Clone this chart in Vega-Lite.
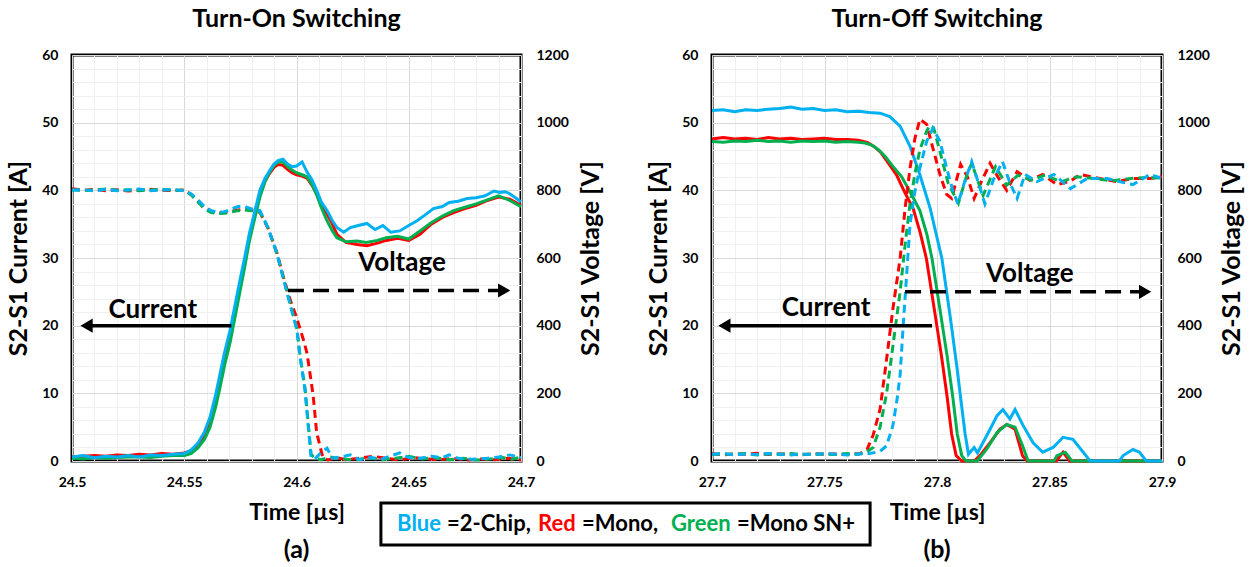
{
"$schema": "https://vega.github.io/schema/vega-lite/v6.json",
"background": "white",
"padding": {"left": 5, "top": 5, "right": 5, "bottom": 0},
"config": {
  "font": "Lato",
  "view": {"stroke": "black", "strokeWidth": 3},
  "axis": {"ticks": false, "domain": false, "labelFont": "Lato", "labelFontSize": 14, "labelFontWeight": "bold", "labelColor": "#000000", "titleFont": "Lato", "titleFontSize": 25, "titleFontWeight": "bold", "titleColor": "#000000", "labelOverlap": false, "labelFlush": false, "gridWidth": 1},
  "axisX": {"labelPadding": 14, "titlePadding": 12, "titleFontSize": 23},
  "axisLeft": {"labelPadding": 14, "titlePadding": 10},
  "axisRight": {"labelPadding": 15, "titlePadding": 10, "titleAngle": 270, "titleBaseline": "top"},
  "title": {"font": "Lato", "fontSize": 25, "fontWeight": "bold", "color": "#000000", "offset": 16}
},
"datasets": {
"onI": [
{"t":24.5,"s":"Mono","v":0.6},{"t":24.505,"s":"Mono","v":0.7},{"t":24.51,"s":"Mono","v":0.8},{"t":24.515,"s":"Mono","v":0.7},{"t":24.52,"s":"Mono","v":0.9},{"t":24.525,"s":"Mono","v":0.8},{"t":24.53,"s":"Mono","v":1.0},{"t":24.535,"s":"Mono","v":0.9},{"t":24.54,"s":"Mono","v":1.1},{"t":24.545,"s":"Mono","v":1.0},{"t":24.55,"s":"Mono","v":1.2},{"t":24.553,"s":"Mono","v":1.5},{"t":24.556,"s":"Mono","v":2.3},{"t":24.559,"s":"Mono","v":3.8},{"t":24.5615,"s":"Mono","v":5.8},{"t":24.564,"s":"Mono","v":9},{"t":24.566,"s":"Mono","v":12},{"t":24.568,"s":"Mono","v":15.2},{"t":24.5704,"s":"Mono","v":18.5},{"t":24.5726,"s":"Mono","v":22.3},{"t":24.5748,"s":"Mono","v":26},{"t":24.577,"s":"Mono","v":29.6},{"t":24.579,"s":"Mono","v":33},{"t":24.5815,"s":"Mono","v":36.5},{"t":24.5837,"s":"Mono","v":39.5},{"t":24.586,"s":"Mono","v":41.4},{"t":24.588,"s":"Mono","v":42.5},{"t":24.59,"s":"Mono","v":43.4},{"t":24.5918,"s":"Mono","v":43.8},{"t":24.594,"s":"Mono","v":43.7},{"t":24.596,"s":"Mono","v":43.1},{"t":24.598,"s":"Mono","v":42.6},{"t":24.6,"s":"Mono","v":42.3},{"t":24.6025,"s":"Mono","v":42.1},{"t":24.6047,"s":"Mono","v":41.8},{"t":24.607,"s":"Mono","v":40.7},{"t":24.609,"s":"Mono","v":39.5},{"t":24.611,"s":"Mono","v":38.1},{"t":24.6136,"s":"Mono","v":36.5},{"t":24.616,"s":"Mono","v":35},{"t":24.618,"s":"Mono","v":33.5},{"t":24.622,"s":"Mono","v":32.3},{"t":24.627,"s":"Mono","v":32.0},{"t":24.6314,"s":"Mono","v":31.8},{"t":24.636,"s":"Mono","v":32.2},{"t":24.64,"s":"Mono","v":32.6},{"t":24.645,"s":"Mono","v":32.9},{"t":24.65,"s":"Mono","v":32.6},{"t":24.655,"s":"Mono","v":33.5},{"t":24.66,"s":"Mono","v":35},{"t":24.665,"s":"Mono","v":36},{"t":24.67,"s":"Mono","v":36.7},{"t":24.675,"s":"Mono","v":37.3},{"t":24.68,"s":"Mono","v":37.8},{"t":24.685,"s":"Mono","v":38.5},{"t":24.69,"s":"Mono","v":39.0},{"t":24.695,"s":"Mono","v":38.7},{"t":24.7,"s":"Mono","v":37.8},
{"t":24.5,"s":"Mono SN+","v":0.4},{"t":24.505,"s":"Mono SN+","v":0.3},{"t":24.51,"s":"Mono SN+","v":0.5},{"t":24.515,"s":"Mono SN+","v":0.4},{"t":24.52,"s":"Mono SN+","v":0.5},{"t":24.525,"s":"Mono SN+","v":0.6},{"t":24.53,"s":"Mono SN+","v":0.6},{"t":24.535,"s":"Mono SN+","v":0.5},{"t":24.54,"s":"Mono SN+","v":0.7},{"t":24.545,"s":"Mono SN+","v":0.8},{"t":24.55,"s":"Mono SN+","v":0.8},{"t":24.553,"s":"Mono SN+","v":1.1},{"t":24.556,"s":"Mono SN+","v":1.9},{"t":24.559,"s":"Mono SN+","v":3.2},{"t":24.5615,"s":"Mono SN+","v":5},{"t":24.564,"s":"Mono SN+","v":8},{"t":24.566,"s":"Mono SN+","v":11},{"t":24.568,"s":"Mono SN+","v":14.2},{"t":24.5704,"s":"Mono SN+","v":17.5},{"t":24.5726,"s":"Mono SN+","v":21.2},{"t":24.5748,"s":"Mono SN+","v":25},{"t":24.577,"s":"Mono SN+","v":28.8},{"t":24.579,"s":"Mono SN+","v":32.5},{"t":24.5815,"s":"Mono SN+","v":36},{"t":24.5837,"s":"Mono SN+","v":39},{"t":24.586,"s":"Mono SN+","v":41.3},{"t":24.588,"s":"Mono SN+","v":42.7},{"t":24.59,"s":"Mono SN+","v":43.7},{"t":24.5918,"s":"Mono SN+","v":44.2},{"t":24.594,"s":"Mono SN+","v":44.2},{"t":24.596,"s":"Mono SN+","v":43.5},{"t":24.598,"s":"Mono SN+","v":43.0},{"t":24.6,"s":"Mono SN+","v":42.6},{"t":24.6025,"s":"Mono SN+","v":42.3},{"t":24.6047,"s":"Mono SN+","v":42},{"t":24.607,"s":"Mono SN+","v":40.8},{"t":24.609,"s":"Mono SN+","v":39.3},{"t":24.611,"s":"Mono SN+","v":37.5},{"t":24.6136,"s":"Mono SN+","v":35.5},{"t":24.616,"s":"Mono SN+","v":34},{"t":24.618,"s":"Mono SN+","v":33},{"t":24.622,"s":"Mono SN+","v":32.4},{"t":24.627,"s":"Mono SN+","v":32.5},{"t":24.631,"s":"Mono SN+","v":32.3},{"t":24.636,"s":"Mono SN+","v":32.6},{"t":24.64,"s":"Mono SN+","v":33},{"t":24.645,"s":"Mono SN+","v":33.2},{"t":24.65,"s":"Mono SN+","v":32.8},{"t":24.655,"s":"Mono SN+","v":34},{"t":24.66,"s":"Mono SN+","v":35.2},{"t":24.665,"s":"Mono SN+","v":36.2},{"t":24.67,"s":"Mono SN+","v":37},{"t":24.675,"s":"Mono SN+","v":37.5},{"t":24.68,"s":"Mono SN+","v":38},{"t":24.685,"s":"Mono SN+","v":38.6},{"t":24.69,"s":"Mono SN+","v":39.2},{"t":24.695,"s":"Mono SN+","v":38.5},{"t":24.7,"s":"Mono SN+","v":37.6},
{"t":24.5,"s":"2-Chip","v":0.6},{"t":24.505,"s":"2-Chip","v":0.8},{"t":24.51,"s":"2-Chip","v":0.5},{"t":24.515,"s":"2-Chip","v":0.7},{"t":24.52,"s":"2-Chip","v":0.6},{"t":24.525,"s":"2-Chip","v":0.8},{"t":24.53,"s":"2-Chip","v":0.6},{"t":24.535,"s":"2-Chip","v":0.9},{"t":24.54,"s":"2-Chip","v":0.8},{"t":24.545,"s":"2-Chip","v":1.0},{"t":24.55,"s":"2-Chip","v":1.1},{"t":24.553,"s":"2-Chip","v":1.6},{"t":24.556,"s":"2-Chip","v":2.6},{"t":24.559,"s":"2-Chip","v":4.3},{"t":24.5615,"s":"2-Chip","v":6.5},{"t":24.564,"s":"2-Chip","v":9.8},{"t":24.566,"s":"2-Chip","v":13},{"t":24.568,"s":"2-Chip","v":16.1},{"t":24.5704,"s":"2-Chip","v":19.3},{"t":24.5726,"s":"2-Chip","v":23},{"t":24.5748,"s":"2-Chip","v":26.7},{"t":24.577,"s":"2-Chip","v":30.2},{"t":24.579,"s":"2-Chip","v":33.6},{"t":24.5815,"s":"2-Chip","v":37},{"t":24.5837,"s":"2-Chip","v":40},{"t":24.586,"s":"2-Chip","v":41.8},{"t":24.588,"s":"2-Chip","v":42.9},{"t":24.59,"s":"2-Chip","v":43.9},{"t":24.5918,"s":"2-Chip","v":44.4},{"t":24.594,"s":"2-Chip","v":44.6},{"t":24.596,"s":"2-Chip","v":43.9},{"t":24.598,"s":"2-Chip","v":43.5},{"t":24.6,"s":"2-Chip","v":43.6},{"t":24.6025,"s":"2-Chip","v":44.2},{"t":24.6047,"s":"2-Chip","v":42.7},{"t":24.607,"s":"2-Chip","v":41.5},{"t":24.609,"s":"2-Chip","v":40},{"t":24.611,"s":"2-Chip","v":38.3},{"t":24.6136,"s":"2-Chip","v":37},{"t":24.616,"s":"2-Chip","v":35.5},{"t":24.618,"s":"2-Chip","v":34.5},{"t":24.621,"s":"2-Chip","v":33.8},{"t":24.624,"s":"2-Chip","v":34.5},{"t":24.6275,"s":"2-Chip","v":34.8},{"t":24.6314,"s":"2-Chip","v":35.1},{"t":24.635,"s":"2-Chip","v":34.2},{"t":24.6385,"s":"2-Chip","v":34.8},{"t":24.642,"s":"2-Chip","v":33.8},{"t":24.646,"s":"2-Chip","v":34},{"t":24.65,"s":"2-Chip","v":34.8},{"t":24.6537,"s":"2-Chip","v":35.5},{"t":24.657,"s":"2-Chip","v":36.3},{"t":24.661,"s":"2-Chip","v":37.3},{"t":24.665,"s":"2-Chip","v":37.6},{"t":24.668,"s":"2-Chip","v":38.2},{"t":24.672,"s":"2-Chip","v":38.4},{"t":24.676,"s":"2-Chip","v":38.8},{"t":24.68,"s":"2-Chip","v":38.9},{"t":24.684,"s":"2-Chip","v":39.2},{"t":24.688,"s":"2-Chip","v":39.9},{"t":24.6906,"s":"2-Chip","v":39.7},{"t":24.693,"s":"2-Chip","v":39.8},{"t":24.695,"s":"2-Chip","v":39.5},{"t":24.698,"s":"2-Chip","v":38.8},{"t":24.7,"s":"2-Chip","v":38.3}
],
"onV": [
{"t":24.5,"s":"Mono","v":805},{"t":24.505,"s":"Mono","v":800},{"t":24.51,"s":"Mono","v":803},{"t":24.515,"s":"Mono","v":799},{"t":24.52,"s":"Mono","v":802},{"t":24.525,"s":"Mono","v":798},{"t":24.53,"s":"Mono","v":801},{"t":24.535,"s":"Mono","v":803},{"t":24.54,"s":"Mono","v":800},{"t":24.545,"s":"Mono","v":799},{"t":24.55,"s":"Mono","v":801},{"t":24.553,"s":"Mono","v":788},{"t":24.556,"s":"Mono","v":770},{"t":24.559,"s":"Mono","v":750},{"t":24.562,"s":"Mono","v":738},{"t":24.565,"s":"Mono","v":733},{"t":24.568,"s":"Mono","v":735},{"t":24.571,"s":"Mono","v":738},{"t":24.574,"s":"Mono","v":742},{"t":24.577,"s":"Mono","v":745},{"t":24.58,"s":"Mono","v":742},{"t":24.5837,"s":"Mono","v":735},{"t":24.5873,"s":"Mono","v":688},{"t":24.5913,"s":"Mono","v":615},{"t":24.594,"s":"Mono","v":548},{"t":24.597,"s":"Mono","v":480},{"t":24.6,"s":"Mono","v":425},{"t":24.603,"s":"Mono","v":360},{"t":24.6047,"s":"Mono","v":318},{"t":24.6074,"s":"Mono","v":195},{"t":24.609,"s":"Mono","v":83},{"t":24.6118,"s":"Mono","v":9},{"t":24.614,"s":"Mono","v":3},{"t":24.618,"s":"Mono","v":10},{"t":24.622,"s":"Mono","v":4},{"t":24.628,"s":"Mono","v":8},{"t":24.634,"s":"Mono","v":14},{"t":24.64,"s":"Mono","v":8},{"t":24.646,"s":"Mono","v":3},{"t":24.652,"s":"Mono","v":10},{"t":24.658,"s":"Mono","v":6},{"t":24.664,"s":"Mono","v":4},{"t":24.67,"s":"Mono","v":8},{"t":24.676,"s":"Mono","v":3},{"t":24.682,"s":"Mono","v":6},{"t":24.688,"s":"Mono","v":4},{"t":24.694,"s":"Mono","v":8},{"t":24.7,"s":"Mono","v":3},
{"t":24.5,"s":"Mono SN+","v":802},{"t":24.505,"s":"Mono SN+","v":799},{"t":24.51,"s":"Mono SN+","v":801},{"t":24.515,"s":"Mono SN+","v":804},{"t":24.52,"s":"Mono SN+","v":800},{"t":24.525,"s":"Mono SN+","v":802},{"t":24.53,"s":"Mono SN+","v":799},{"t":24.535,"s":"Mono SN+","v":801},{"t":24.54,"s":"Mono SN+","v":803},{"t":24.545,"s":"Mono SN+","v":800},{"t":24.55,"s":"Mono SN+","v":800},{"t":24.553,"s":"Mono SN+","v":787},{"t":24.556,"s":"Mono SN+","v":766},{"t":24.559,"s":"Mono SN+","v":745},{"t":24.562,"s":"Mono SN+","v":734},{"t":24.565,"s":"Mono SN+","v":731},{"t":24.568,"s":"Mono SN+","v":732},{"t":24.571,"s":"Mono SN+","v":736},{"t":24.574,"s":"Mono SN+","v":740},{"t":24.577,"s":"Mono SN+","v":742},{"t":24.58,"s":"Mono SN+","v":740},{"t":24.5837,"s":"Mono SN+","v":736},{"t":24.5873,"s":"Mono SN+","v":690},{"t":24.5913,"s":"Mono SN+","v":612},{"t":24.594,"s":"Mono SN+","v":545},{"t":24.597,"s":"Mono SN+","v":470},{"t":24.6002,"s":"Mono SN+","v":390},{"t":24.6016,"s":"Mono SN+","v":310},{"t":24.6038,"s":"Mono SN+","v":215},{"t":24.6051,"s":"Mono SN+","v":120},{"t":24.6065,"s":"Mono SN+","v":20},{"t":24.608,"s":"Mono SN+","v":8},{"t":24.611,"s":"Mono SN+","v":4},{"t":24.615,"s":"Mono SN+","v":12},{"t":24.62,"s":"Mono SN+","v":6},{"t":24.626,"s":"Mono SN+","v":3},{"t":24.632,"s":"Mono SN+","v":10},{"t":24.638,"s":"Mono SN+","v":4},{"t":24.644,"s":"Mono SN+","v":8},{"t":24.65,"s":"Mono SN+","v":14},{"t":24.656,"s":"Mono SN+","v":6},{"t":24.662,"s":"Mono SN+","v":10},{"t":24.668,"s":"Mono SN+","v":4},{"t":24.674,"s":"Mono SN+","v":8},{"t":24.68,"s":"Mono SN+","v":3},{"t":24.686,"s":"Mono SN+","v":6},{"t":24.692,"s":"Mono SN+","v":10},{"t":24.696,"s":"Mono SN+","v":5},{"t":24.7,"s":"Mono SN+","v":12},
{"t":24.5,"s":"2-Chip","v":800},{"t":24.505,"s":"2-Chip","v":802},{"t":24.51,"s":"2-Chip","v":798},{"t":24.515,"s":"2-Chip","v":803},{"t":24.52,"s":"2-Chip","v":799},{"t":24.525,"s":"2-Chip","v":801},{"t":24.53,"s":"2-Chip","v":804},{"t":24.535,"s":"2-Chip","v":799},{"t":24.54,"s":"2-Chip","v":801},{"t":24.545,"s":"2-Chip","v":803},{"t":24.55,"s":"2-Chip","v":798},{"t":24.553,"s":"2-Chip","v":790},{"t":24.556,"s":"2-Chip","v":772},{"t":24.559,"s":"2-Chip","v":752},{"t":24.562,"s":"2-Chip","v":740},{"t":24.565,"s":"2-Chip","v":735},{"t":24.568,"s":"2-Chip","v":737},{"t":24.571,"s":"2-Chip","v":745},{"t":24.574,"s":"2-Chip","v":752},{"t":24.577,"s":"2-Chip","v":752},{"t":24.58,"s":"2-Chip","v":745},{"t":24.5837,"s":"2-Chip","v":740},{"t":24.5873,"s":"2-Chip","v":690},{"t":24.5913,"s":"2-Chip","v":613},{"t":24.594,"s":"2-Chip","v":543},{"t":24.597,"s":"2-Chip","v":466},{"t":24.6002,"s":"2-Chip","v":386},{"t":24.6016,"s":"2-Chip","v":307},{"t":24.6038,"s":"2-Chip","v":209},{"t":24.6051,"s":"2-Chip","v":112},{"t":24.6065,"s":"2-Chip","v":12},{"t":24.608,"s":"2-Chip","v":5},{"t":24.611,"s":"2-Chip","v":25},{"t":24.6136,"s":"2-Chip","v":38},{"t":24.616,"s":"2-Chip","v":8},{"t":24.62,"s":"2-Chip","v":12},{"t":24.624,"s":"2-Chip","v":18},{"t":24.628,"s":"2-Chip","v":4},{"t":24.633,"s":"2-Chip","v":10},{"t":24.638,"s":"2-Chip","v":6},{"t":24.642,"s":"2-Chip","v":15},{"t":24.646,"s":"2-Chip","v":24},{"t":24.65,"s":"2-Chip","v":10},{"t":24.655,"s":"2-Chip","v":8},{"t":24.66,"s":"2-Chip","v":14},{"t":24.665,"s":"2-Chip","v":10},{"t":24.668,"s":"2-Chip","v":18},{"t":24.672,"s":"2-Chip","v":8},{"t":24.678,"s":"2-Chip","v":5},{"t":24.685,"s":"2-Chip","v":8},{"t":24.69,"s":"2-Chip","v":12},{"t":24.695,"s":"2-Chip","v":18},{"t":24.7,"s":"2-Chip","v":10}
],
"offI": [
{"t":27.7,"s":"Mono","v":47.6},{"t":27.705,"s":"Mono","v":47.8},{"t":27.71,"s":"Mono","v":47.6},{"t":27.715,"s":"Mono","v":47.7},{"t":27.72,"s":"Mono","v":47.5},{"t":27.725,"s":"Mono","v":47.8},{"t":27.73,"s":"Mono","v":47.6},{"t":27.735,"s":"Mono","v":47.7},{"t":27.74,"s":"Mono","v":47.5},{"t":27.745,"s":"Mono","v":47.6},{"t":27.75,"s":"Mono","v":47.7},{"t":27.755,"s":"Mono","v":47.5},{"t":27.76,"s":"Mono","v":47.5},{"t":27.765,"s":"Mono","v":47.4},{"t":27.769,"s":"Mono","v":47.1},{"t":27.772,"s":"Mono","v":46.5},{"t":27.775,"s":"Mono","v":45.6},{"t":27.778,"s":"Mono","v":44.2},{"t":27.782,"s":"Mono","v":42.3},{"t":27.7855,"s":"Mono","v":39.8},{"t":27.7894,"s":"Mono","v":37.3},{"t":27.7925,"s":"Mono","v":33.8},{"t":27.7953,"s":"Mono","v":29.9},{"t":27.799,"s":"Mono","v":22},{"t":27.802,"s":"Mono","v":15.5},{"t":27.8045,"s":"Mono","v":9.5},{"t":27.8065,"s":"Mono","v":4},{"t":27.8085,"s":"Mono","v":0.8},{"t":27.811,"s":"Mono","v":0},{"t":27.8165,"s":"Mono","v":0},{"t":27.8191,"s":"Mono","v":0.8},{"t":27.8236,"s":"Mono","v":2.7},{"t":27.828,"s":"Mono","v":4.7},{"t":27.831,"s":"Mono","v":5.4},{"t":27.8347,"s":"Mono","v":4.7},{"t":27.838,"s":"Mono","v":0.8},{"t":27.84,"s":"Mono","v":0},{"t":27.853,"s":"Mono","v":0},{"t":27.856,"s":"Mono","v":1.3},{"t":27.859,"s":"Mono","v":0},{"t":27.9,"s":"Mono","v":0},
{"t":27.7,"s":"Mono SN+","v":47.2},{"t":27.705,"s":"Mono SN+","v":47.1},{"t":27.71,"s":"Mono SN+","v":47.3},{"t":27.715,"s":"Mono SN+","v":47.2},{"t":27.72,"s":"Mono SN+","v":47.4},{"t":27.725,"s":"Mono SN+","v":47.2},{"t":27.73,"s":"Mono SN+","v":47.3},{"t":27.735,"s":"Mono SN+","v":47.1},{"t":27.74,"s":"Mono SN+","v":47.3},{"t":27.745,"s":"Mono SN+","v":47.2},{"t":27.75,"s":"Mono SN+","v":47.3},{"t":27.755,"s":"Mono SN+","v":47.1},{"t":27.76,"s":"Mono SN+","v":47.2},{"t":27.765,"s":"Mono SN+","v":47.1},{"t":27.768,"s":"Mono SN+","v":47.0},{"t":27.771,"s":"Mono SN+","v":46.7},{"t":27.774,"s":"Mono SN+","v":46.0},{"t":27.777,"s":"Mono SN+","v":45.0},{"t":27.7805,"s":"Mono SN+","v":43.5},{"t":27.7843,"s":"Mono SN+","v":42.0},{"t":27.7885,"s":"Mono SN+","v":39.5},{"t":27.7924,"s":"Mono SN+","v":37.0},{"t":27.7955,"s":"Mono SN+","v":33.5},{"t":27.7978,"s":"Mono SN+","v":29.9},{"t":27.8015,"s":"Mono SN+","v":22},{"t":27.8045,"s":"Mono SN+","v":15.5},{"t":27.807,"s":"Mono SN+","v":9.5},{"t":27.809,"s":"Mono SN+","v":4},{"t":27.811,"s":"Mono SN+","v":0.8},{"t":27.813,"s":"Mono SN+","v":0},{"t":27.8178,"s":"Mono SN+","v":0},{"t":27.822,"s":"Mono SN+","v":1.7},{"t":27.8267,"s":"Mono SN+","v":4.2},{"t":27.831,"s":"Mono SN+","v":5.4},{"t":27.8347,"s":"Mono SN+","v":5.0},{"t":27.838,"s":"Mono SN+","v":2.3},{"t":27.8405,"s":"Mono SN+","v":0},{"t":27.852,"s":"Mono SN+","v":0},{"t":27.8533,"s":"Mono SN+","v":0.8},{"t":27.857,"s":"Mono SN+","v":1.3},{"t":27.86,"s":"Mono SN+","v":0},{"t":27.9,"s":"Mono SN+","v":0},
{"t":27.7,"s":"2-Chip","v":51.8},{"t":27.705,"s":"2-Chip","v":51.9},{"t":27.71,"s":"2-Chip","v":51.6},{"t":27.715,"s":"2-Chip","v":51.9},{"t":27.72,"s":"2-Chip","v":51.8},{"t":27.725,"s":"2-Chip","v":52.0},{"t":27.73,"s":"2-Chip","v":52.1},{"t":27.735,"s":"2-Chip","v":52.3},{"t":27.74,"s":"2-Chip","v":52.0},{"t":27.745,"s":"2-Chip","v":52.1},{"t":27.75,"s":"2-Chip","v":51.8},{"t":27.755,"s":"2-Chip","v":51.9},{"t":27.76,"s":"2-Chip","v":51.6},{"t":27.765,"s":"2-Chip","v":51.7},{"t":27.77,"s":"2-Chip","v":51.5},{"t":27.7747,"s":"2-Chip","v":51.4},{"t":27.779,"s":"2-Chip","v":50.9},{"t":27.7836,"s":"2-Chip","v":49.5},{"t":27.788,"s":"2-Chip","v":46.5},{"t":27.7924,"s":"2-Chip","v":42.3},{"t":27.797,"s":"2-Chip","v":37.3},{"t":27.8,"s":"2-Chip","v":33},{"t":27.8022,"s":"2-Chip","v":29.9},{"t":27.806,"s":"2-Chip","v":21},{"t":27.8088,"s":"2-Chip","v":14},{"t":27.811,"s":"2-Chip","v":8},{"t":27.8125,"s":"2-Chip","v":4},{"t":27.814,"s":"2-Chip","v":1.0},{"t":27.8165,"s":"2-Chip","v":2.0},{"t":27.818,"s":"2-Chip","v":1.2},{"t":27.8204,"s":"2-Chip","v":2.7},{"t":27.8236,"s":"2-Chip","v":4.7},{"t":27.8267,"s":"2-Chip","v":6.7},{"t":27.8293,"s":"2-Chip","v":7.6},{"t":27.8324,"s":"2-Chip","v":6.2},{"t":27.8347,"s":"2-Chip","v":7.6},{"t":27.8382,"s":"2-Chip","v":5.3},{"t":27.8427,"s":"2-Chip","v":2.7},{"t":27.847,"s":"2-Chip","v":1.3},{"t":27.8516,"s":"2-Chip","v":2.0},{"t":27.856,"s":"2-Chip","v":3.5},{"t":27.8604,"s":"2-Chip","v":3.2},{"t":27.865,"s":"2-Chip","v":1.3},{"t":27.868,"s":"2-Chip","v":0},{"t":27.881,"s":"2-Chip","v":0},{"t":27.8827,"s":"2-Chip","v":0.8},{"t":27.8871,"s":"2-Chip","v":1.7},{"t":27.89,"s":"2-Chip","v":1.3},{"t":27.893,"s":"2-Chip","v":0},{"t":27.9,"s":"2-Chip","v":0}
],
"offV": [
{"t":27.7,"s":"Mono","v":22},{"t":27.705,"s":"Mono","v":18},{"t":27.71,"s":"Mono","v":21},{"t":27.715,"s":"Mono","v":20},{"t":27.72,"s":"Mono","v":23},{"t":27.725,"s":"Mono","v":19},{"t":27.73,"s":"Mono","v":21},{"t":27.735,"s":"Mono","v":20},{"t":27.74,"s":"Mono","v":18},{"t":27.745,"s":"Mono","v":22},{"t":27.75,"s":"Mono","v":20},{"t":27.755,"s":"Mono","v":21},{"t":27.76,"s":"Mono","v":19},{"t":27.7658,"s":"Mono","v":22},{"t":27.7689,"s":"Mono","v":34},{"t":27.7716,"s":"Mono","v":76},{"t":27.7747,"s":"Mono","v":153},{"t":27.7776,"s":"Mono","v":301},{"t":27.7804,"s":"Mono","v":450},{"t":27.7836,"s":"Mono","v":598},{"t":27.7858,"s":"Mono","v":746},{"t":27.788,"s":"Mono","v":865},{"t":27.7902,"s":"Mono","v":954},{"t":27.7924,"s":"Mono","v":1010},{"t":27.7954,"s":"Mono","v":995},{"t":27.7982,"s":"Mono","v":924},{"t":27.8013,"s":"Mono","v":847},{"t":27.8043,"s":"Mono","v":788},{"t":27.8065,"s":"Mono","v":776},{"t":27.8105,"s":"Mono","v":877},{"t":27.8135,"s":"Mono","v":840},{"t":27.8165,"s":"Mono","v":776},{"t":27.82,"s":"Mono","v":830},{"t":27.8236,"s":"Mono","v":880},{"t":27.827,"s":"Mono","v":840},{"t":27.831,"s":"Mono","v":800},{"t":27.8356,"s":"Mono","v":855},{"t":27.8413,"s":"Mono","v":830},{"t":27.847,"s":"Mono","v":847},{"t":27.8533,"s":"Mono","v":817},{"t":27.859,"s":"Mono","v":826},{"t":27.8636,"s":"Mono","v":847},{"t":27.8724,"s":"Mono","v":835},{"t":27.88,"s":"Mono","v":826},{"t":27.8871,"s":"Mono","v":835},{"t":27.8947,"s":"Mono","v":835},{"t":27.9,"s":"Mono","v":840},
{"t":27.7,"s":"Mono SN+","v":19},{"t":27.705,"s":"Mono SN+","v":21},{"t":27.71,"s":"Mono SN+","v":20},{"t":27.715,"s":"Mono SN+","v":22},{"t":27.72,"s":"Mono SN+","v":18},{"t":27.725,"s":"Mono SN+","v":21},{"t":27.73,"s":"Mono SN+","v":20},{"t":27.735,"s":"Mono SN+","v":22},{"t":27.74,"s":"Mono SN+","v":19},{"t":27.745,"s":"Mono SN+","v":20},{"t":27.75,"s":"Mono SN+","v":21},{"t":27.755,"s":"Mono SN+","v":19},{"t":27.76,"s":"Mono SN+","v":22},{"t":27.765,"s":"Mono SN+","v":20},{"t":27.768,"s":"Mono SN+","v":24},{"t":27.7716,"s":"Mono SN+","v":40},{"t":27.7747,"s":"Mono SN+","v":100},{"t":27.7776,"s":"Mono SN+","v":200},{"t":27.7804,"s":"Mono SN+","v":340},{"t":27.7836,"s":"Mono SN+","v":500},{"t":27.786,"s":"Mono SN+","v":650},{"t":27.788,"s":"Mono SN+","v":760},{"t":27.7902,"s":"Mono SN+","v":850},{"t":27.7924,"s":"Mono SN+","v":920},{"t":27.7954,"s":"Mono SN+","v":975},{"t":27.7968,"s":"Mono SN+","v":992},{"t":27.7985,"s":"Mono SN+","v":985},{"t":27.8013,"s":"Mono SN+","v":915},{"t":27.805,"s":"Mono SN+","v":820},{"t":27.8095,"s":"Mono SN+","v":762},{"t":27.8135,"s":"Mono SN+","v":850},{"t":27.8155,"s":"Mono SN+","v":880},{"t":27.818,"s":"Mono SN+","v":830},{"t":27.8205,"s":"Mono SN+","v":785},{"t":27.826,"s":"Mono SN+","v":870},{"t":27.831,"s":"Mono SN+","v":815},{"t":27.836,"s":"Mono SN+","v":845},{"t":27.842,"s":"Mono SN+","v":830},{"t":27.848,"s":"Mono SN+","v":845},{"t":27.855,"s":"Mono SN+","v":825},{"t":27.862,"s":"Mono SN+","v":840},{"t":27.87,"s":"Mono SN+","v":835},{"t":27.878,"s":"Mono SN+","v":828},{"t":27.886,"s":"Mono SN+","v":835},{"t":27.893,"s":"Mono SN+","v":838},{"t":27.9,"s":"Mono SN+","v":836},
{"t":27.7,"s":"2-Chip","v":20},{"t":27.705,"s":"2-Chip","v":22},{"t":27.71,"s":"2-Chip","v":18},{"t":27.715,"s":"2-Chip","v":21},{"t":27.72,"s":"2-Chip","v":19},{"t":27.725,"s":"2-Chip","v":22},{"t":27.73,"s":"2-Chip","v":20},{"t":27.735,"s":"2-Chip","v":18},{"t":27.74,"s":"2-Chip","v":21},{"t":27.745,"s":"2-Chip","v":19},{"t":27.75,"s":"2-Chip","v":22},{"t":27.755,"s":"2-Chip","v":20},{"t":27.76,"s":"2-Chip","v":18},{"t":27.765,"s":"2-Chip","v":21},{"t":27.77,"s":"2-Chip","v":22},{"t":27.7746,"s":"2-Chip","v":28},{"t":27.7776,"s":"2-Chip","v":45},{"t":27.7804,"s":"2-Chip","v":105},{"t":27.7822,"s":"2-Chip","v":180},{"t":27.7836,"s":"2-Chip","v":254},{"t":27.785,"s":"2-Chip","v":402},{"t":27.7865,"s":"2-Chip","v":550},{"t":27.788,"s":"2-Chip","v":699},{"t":27.7902,"s":"2-Chip","v":797},{"t":27.7924,"s":"2-Chip","v":866},{"t":27.7954,"s":"2-Chip","v":945},{"t":27.7982,"s":"2-Chip","v":984},{"t":27.8013,"s":"2-Chip","v":945},{"t":27.8043,"s":"2-Chip","v":866},{"t":27.807,"s":"2-Chip","v":800},{"t":27.8093,"s":"2-Chip","v":760},{"t":27.8125,"s":"2-Chip","v":830},{"t":27.8154,"s":"2-Chip","v":885},{"t":27.8185,"s":"2-Chip","v":820},{"t":27.8213,"s":"2-Chip","v":760},{"t":27.825,"s":"2-Chip","v":830},{"t":27.8291,"s":"2-Chip","v":885},{"t":27.8325,"s":"2-Chip","v":820},{"t":27.8356,"s":"2-Chip","v":776},{"t":27.8391,"s":"2-Chip","v":847},{"t":27.8444,"s":"2-Chip","v":826},{"t":27.8519,"s":"2-Chip","v":847},{"t":27.8593,"s":"2-Chip","v":805},{"t":27.8667,"s":"2-Chip","v":835},{"t":27.8756,"s":"2-Chip","v":835},{"t":27.8815,"s":"2-Chip","v":825},{"t":27.8871,"s":"2-Chip","v":817},{"t":27.8947,"s":"2-Chip","v":847},{"t":27.9,"s":"2-Chip","v":835}
]
},
"bounds": "flush",
"spacing": 191,
"hconcat": [
{
  "width": 449, "height": 406,
  "title": {"text": "Turn-On Switching"},
  "resolve": {"scale": {"y": "independent"}, "axis": {"y": "independent", "x": "independent"}},
  "layer": [
    {"data": {"name": "onI"}, "mark": {"type": "line", "strokeWidth": 3},
     "encoding": {
       "x": {"field": "t", "type": "quantitative", "scale": {"domain": [24.5, 24.7], "nice": false, "zero": false},
             "axis": {"values": [24.5, 24.55, 24.6, 24.65, 24.7], "format": "~g", "labelOverlap": false,
                      "gridColor": "#D9D9D9", "title": "Time [µs]"}},
       "y": {"field": "v", "type": "quantitative", "scale": {"domain": [0, 60], "nice": false},
             "axis": {"values": [0,2,4,6,8,10,12,14,16,18,20,22,24,26,28,30,32,34,36,38,40,42,44,46,48,50,52,54,56,58,60],
                      "labelOverlap": false,
                      "labelExpr": "datum.value % 10 === 0 ? datum.label : ''",
                      "gridColor": {"condition": {"test": "datum.value % 10 === 0", "value": "#D9D9D9"}, "value": "#F0F0F0"},
                      "title": "S2-S1 Current [A]"}},
       "color": {"field": "s", "type": "nominal", "scale": {"domain": ["Mono", "Mono SN+", "2-Chip"], "range": ["#FF0000", "#00B050", "#00B0F0"]}, "legend": null}
     }},
    {"data": {"name": "onV"}, "mark": {"type": "line", "strokeWidth": 3, "strokeDash": [8, 5]},
     "encoding": {
       "x": {"field": "t", "type": "quantitative",
             "axis": {"values": [24.51,24.52,24.53,24.54,24.56,24.57,24.58,24.59,24.61,24.62,24.63,24.64,24.66,24.67,24.68,24.69],
                      "labels": false, "title": null, "grid": true, "gridColor": "#F0F0F0", "zindex": 0}},
       "y": {"field": "v", "type": "quantitative", "scale": {"domain": [0, 1200], "nice": false},
             "axis": {"orient": "right", "grid": false, "format": "d", "values": [0,200,400,600,800,1000,1200], "title": "S2-S1 Voltage [V]"}},
       "color": {"field": "s", "type": "nominal", "legend": null}
     }},
    {"data": {"values": [{}]}, "mark": {"type": "rule", "color": "black", "strokeWidth": 3.5},
     "encoding": {"x": {"datum": 24.507, "axis": null}, "x2": {"datum": 24.571}, "y": {"datum": 20, "axis": null, "scale": {"domain": [0, 60], "nice": false}}}},
    {"data": {"values": [{}]}, "mark": {"type": "point", "shape": "triangle-left", "filled": true, "color": "black", "size": 200, "opacity": 1},
     "encoding": {"x": {"datum": 24.5065, "axis": null}, "y": {"datum": 20, "axis": null, "scale": {"domain": [0, 60], "nice": false}}}},
    {"data": {"values": [{}]}, "mark": {"type": "text", "fontSize": 26, "fontWeight": "bold", "color": "black", "baseline": "middle", "align": "center"},
     "encoding": {"x": {"datum": 24.536, "axis": null}, "y": {"datum": 22.3, "axis": null, "scale": {"domain": [0, 60], "nice": false}}, "text": {"value": "Current"}}},
    {"data": {"values": [{}]}, "mark": {"type": "rule", "color": "black", "strokeWidth": 3.5, "strokeDash": [16, 9]},
     "encoding": {"x": {"datum": 24.5962, "axis": null}, "x2": {"datum": 24.6905}, "y": {"datum": 25.2, "axis": null, "scale": {"domain": [0, 60], "nice": false}}}},
    {"data": {"values": [{}]}, "mark": {"type": "point", "shape": "triangle-right", "filled": true, "color": "black", "size": 200, "opacity": 1},
     "encoding": {"x": {"datum": 24.6925, "axis": null}, "y": {"datum": 25.2, "axis": null, "scale": {"domain": [0, 60], "nice": false}}}},
    {"data": {"values": [{}]}, "mark": {"type": "text", "fontSize": 26, "fontWeight": "bold", "color": "black", "baseline": "middle", "align": "center"},
     "encoding": {"x": {"datum": 24.647, "axis": null}, "y": {"datum": 29.3, "axis": null, "scale": {"domain": [0, 60], "nice": false}}, "text": {"value": "Voltage"}}},
    {"data": {"values": [{}]}, "mark": {"type": "text", "fontSize": 25, "fontWeight": "bold", "color": "black", "baseline": "middle", "align": "center"},
     "encoding": {"x": {"datum": 24.6, "axis": null}, "y": {"datum": -13.1, "axis": null, "scale": {"domain": [0, 60], "nice": false}}, "text": {"value": "(a)"}}},
    {"data": {"values": [{}]}, "mark": {"type": "rect", "fill": "white", "stroke": "black", "strokeWidth": 3},
     "encoding": {"x": {"datum": 24.6376, "axis": null}, "x2": {"datum": 24.8555}, "y": {"datum": -6.2, "axis": null, "scale": {"domain": [0, 60], "nice": false}}, "y2": {"datum": -12.4}}},
    {"data": {"values": [{}]}, "mark": {"type": "text", "fontSize": 22, "fontWeight": "bold", "color": "#00B0F0", "baseline": "middle", "align": "left"},
     "encoding": {"x": {"datum": 24.6448, "axis": null}, "y": {"datum": -9.3, "axis": null, "scale": {"domain": [0, 60], "nice": false}}, "text": {"value": "Blue"}}},
    {"data": {"values": [{}]}, "mark": {"type": "text", "fontSize": 22, "fontWeight": "bold", "color": "black", "baseline": "middle", "align": "left"},
     "encoding": {"x": {"datum": 24.667, "axis": null}, "y": {"datum": -9.3, "axis": null, "scale": {"domain": [0, 60], "nice": false}}, "text": {"value": "=2-Chip,"}}},
    {"data": {"values": [{}]}, "mark": {"type": "text", "fontSize": 22, "fontWeight": "bold", "color": "#FF0000", "baseline": "middle", "align": "left"},
     "encoding": {"x": {"datum": 24.7076, "axis": null}, "y": {"datum": -9.3, "axis": null, "scale": {"domain": [0, 60], "nice": false}}, "text": {"value": "Red"}}},
    {"data": {"values": [{}]}, "mark": {"type": "text", "fontSize": 22, "fontWeight": "bold", "color": "black", "baseline": "middle", "align": "left"},
     "encoding": {"x": {"datum": 24.7272, "axis": null}, "y": {"datum": -9.3, "axis": null, "scale": {"domain": [0, 60], "nice": false}}, "text": {"value": "=Mono,"}}},
    {"data": {"values": [{}]}, "mark": {"type": "text", "fontSize": 22, "fontWeight": "bold", "color": "#00B050", "baseline": "middle", "align": "left"},
     "encoding": {"x": {"datum": 24.7668, "axis": null}, "y": {"datum": -9.3, "axis": null, "scale": {"domain": [0, 60], "nice": false}}, "text": {"value": "Green"}}},
    {"data": {"values": [{}]}, "mark": {"type": "text", "fontSize": 22, "fontWeight": "bold", "color": "black", "baseline": "middle", "align": "left"},
     "encoding": {"x": {"datum": 24.7962, "axis": null}, "y": {"datum": -9.3, "axis": null, "scale": {"domain": [0, 60], "nice": false}}, "text": {"value": "=Mono SN+"}}}
  ]
},
{
  "width": 450, "height": 406,
  "title": {"text": "Turn-Off Switching"},
  "resolve": {"scale": {"y": "independent"}, "axis": {"y": "independent", "x": "independent"}},
  "layer": [
    {"data": {"name": "offI"}, "mark": {"type": "line", "strokeWidth": 3},
     "encoding": {
       "x": {"field": "t", "type": "quantitative", "scale": {"domain": [27.7, 27.9], "nice": false, "zero": false},
             "axis": {"values": [27.7, 27.75, 27.8, 27.85, 27.9], "format": "~g", "labelOverlap": false,
                      "gridColor": "#D9D9D9", "title": "Time [µs]"}},
       "y": {"field": "v", "type": "quantitative", "scale": {"domain": [0, 60], "nice": false},
             "axis": {"values": [0,2,4,6,8,10,12,14,16,18,20,22,24,26,28,30,32,34,36,38,40,42,44,46,48,50,52,54,56,58,60],
                      "labelOverlap": false,
                      "labelExpr": "datum.value % 10 === 0 ? datum.label : ''",
                      "gridColor": {"condition": {"test": "datum.value % 10 === 0", "value": "#D9D9D9"}, "value": "#F0F0F0"},
                      "title": "S2-S1 Current [A]"}},
       "color": {"field": "s", "type": "nominal", "scale": {"domain": ["Mono", "Mono SN+", "2-Chip"], "range": ["#FF0000", "#00B050", "#00B0F0"]}, "legend": null}
     }},
    {"data": {"name": "offV"}, "mark": {"type": "line", "strokeWidth": 3, "strokeDash": [8, 5]},
     "encoding": {
       "x": {"field": "t", "type": "quantitative",
             "axis": {"values": [27.71,27.72,27.73,27.74,27.76,27.77,27.78,27.79,27.81,27.82,27.83,27.84,27.86,27.87,27.88,27.89],
                      "labels": false, "title": null, "grid": true, "gridColor": "#F0F0F0", "zindex": 0}},
       "y": {"field": "v", "type": "quantitative", "scale": {"domain": [0, 1200], "nice": false},
             "axis": {"orient": "right", "grid": false, "format": "d", "values": [0,200,400,600,800,1000,1200], "title": "S2-S1 Voltage [V]"}},
       "color": {"field": "s", "type": "nominal", "legend": null}
     }},
    {"data": {"values": [{}]}, "mark": {"type": "rule", "color": "black", "strokeWidth": 3.5},
     "encoding": {"x": {"datum": 27.706, "axis": null}, "x2": {"datum": 27.7978}, "y": {"datum": 20, "axis": null, "scale": {"domain": [0, 60], "nice": false}}}},
    {"data": {"values": [{}]}, "mark": {"type": "point", "shape": "triangle-left", "filled": true, "color": "black", "size": 200, "opacity": 1},
     "encoding": {"x": {"datum": 27.7055, "axis": null}, "y": {"datum": 20, "axis": null, "scale": {"domain": [0, 60], "nice": false}}}},
    {"data": {"values": [{}]}, "mark": {"type": "text", "fontSize": 26, "fontWeight": "bold", "color": "black", "baseline": "middle", "align": "center"},
     "encoding": {"x": {"datum": 27.7507, "axis": null}, "y": {"datum": 22.6, "axis": null, "scale": {"domain": [0, 60], "nice": false}}, "text": {"value": "Current"}}},
    {"data": {"values": [{}]}, "mark": {"type": "rule", "color": "black", "strokeWidth": 3.5, "strokeDash": [16, 9]},
     "encoding": {"x": {"datum": 27.7858, "axis": null}, "x2": {"datum": 27.8905}, "y": {"datum": 25, "axis": null, "scale": {"domain": [0, 60], "nice": false}}}},
    {"data": {"values": [{}]}, "mark": {"type": "point", "shape": "triangle-right", "filled": true, "color": "black", "size": 200, "opacity": 1},
     "encoding": {"x": {"datum": 27.8925, "axis": null}, "y": {"datum": 25, "axis": null, "scale": {"domain": [0, 60], "nice": false}}}},
    {"data": {"values": [{}]}, "mark": {"type": "text", "fontSize": 26, "fontWeight": "bold", "color": "black", "baseline": "middle", "align": "center"},
     "encoding": {"x": {"datum": 27.8413, "axis": null}, "y": {"datum": 27.7, "axis": null, "scale": {"domain": [0, 60], "nice": false}}, "text": {"value": "Voltage"}}},
    {"data": {"values": [{}]}, "mark": {"type": "text", "fontSize": 25, "fontWeight": "bold", "color": "black", "baseline": "middle", "align": "center"},
     "encoding": {"x": {"datum": 27.8, "axis": null}, "y": {"datum": -13.1, "axis": null, "scale": {"domain": [0, 60], "nice": false}}, "text": {"value": "(b)"}}}
  ]
}
]
}
